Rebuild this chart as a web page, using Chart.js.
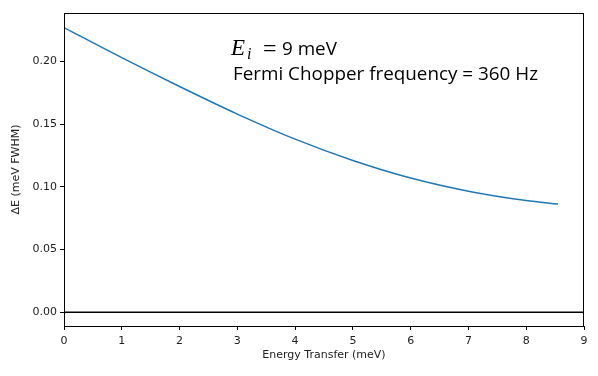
<!DOCTYPE html>
<html>
<head>
<meta charset="utf-8">
<script src="https://cdn.jsdelivr.net/npm/chart.js@4/dist/chart.umd.min.js"></script>
<style>
  html, body { margin: 0; padding: 0; background: #fff; }
  #wrap { width: 598px; height: 376px; }
</style>
</head>
<body>
<div id="wrap"><canvas id="chart" width="598" height="376"></canvas></div>
<script>
// energy transfer (meV) and resolution (meV FWHM)
const energyTransfer = [0, 1, 2, 3, 4, 5, 6, 7, 8, 8.55];
const resolution = [0.227, 0.203, 0.180, 0.158, 0.138, 0.121, 0.107, 0.0965, 0.089, 0.0862];
const zeroLineX = [0, 9];
const xTicks = [0, 1, 2, 3, 4, 5, 6, 7, 8, 9];
const yTicks = [0.00, 0.05, 0.10, 0.15, 0.20];
const noteLines = ['9 meV', 'Fermi Chopper frequency = 360 Hz'];

const tickFont = { family: 'DejaVu Sans', size: 11 };

const boxAndNote = {
  id: 'boxAndNote',
  afterDraw(chart) {
    const ctx = chart.ctx;
    const a = chart.chartArea;
    ctx.save();
    ctx.strokeStyle = '#000';
    ctx.lineWidth = 1;
    ctx.strokeRect(a.left + 0.5, a.top + 0.5, a.right - a.left - 1, a.bottom - a.top);

    // annotation text, sans lines squeezed a bit (reference uses a narrow font)
    ctx.fillStyle = '#000';
    ctx.textBaseline = 'alphabetic';
    ctx.font = 'italic 23px "Liberation Serif"';
    ctx.fillText('E', 231, 55);
    ctx.font = 'italic 16px "Liberation Serif"';
    ctx.fillText('i', 247, 59);
    ctx.font = '24px "Liberation Serif"';
    ctx.fillText('=', 263, 56);

    ctx.font = '19px "Open Sans"';
    const squeeze = 305 / ctx.measureText(noteLines[1]).width;
    [[noteLines[0], 282, 55], [noteLines[1], 233, 80]].forEach(([t, x, y]) => {
      ctx.save();
      ctx.translate(x, y);
      ctx.scale(squeeze, 1);
      ctx.fillText(t, 0, 0);
      ctx.restore();
    });
    ctx.restore();
  }
};

const ctx = document.getElementById('chart').getContext('2d');
new Chart(ctx, {
  type: 'line',
  data: {
    datasets: [
      {
        data: energyTransfer.map((e, i) => ({ x: e, y: resolution[i] })),
        borderColor: '#1f77b4',
        borderWidth: 1.5,
        pointRadius: 0,
        cubicInterpolationMode: 'monotone'
      },
      {
        data: zeroLineX.map(e => ({ x: e, y: 0 })),
        borderColor: '#000',
        borderWidth: 1.5,
        pointRadius: 0
      }
    ]
  },
  options: {
    responsive: false,
    animation: false,
    layout: { padding: { top: 13, right: 14, left: 6, bottom: 10 } },
    plugins: { legend: { display: false }, tooltip: { enabled: false } },
    scales: {
      x: {
        type: 'linear',
        min: 0,
        max: 9,
        afterBuildTicks: s => { s.ticks = xTicks.map(v => ({ value: v })); },
        afterFit: s => { s.height = 40; },
        grid: { drawOnChartArea: false, drawTicks: true, tickLength: 4, color: '#000' },
        border: { color: '#000', width: 1 },
        ticks: { font: tickFont, color: '#222', padding: 5, maxRotation: 0, callback: v => String(v) },
        title: { display: true, text: 'Energy Transfer (meV)', font: tickFont, color: '#222', padding: { top: 4 } }
      },
      y: {
        type: 'linear',
        min: -0.011,
        max: 0.2386,
        afterBuildTicks: s => { s.ticks = yTicks.map(v => ({ value: v })); },
        afterFit: s => { s.width = 58; },
        grid: { drawOnChartArea: false, drawTicks: true, tickLength: 4, color: '#000' },
        border: { color: '#000', width: 1 },
        ticks: { font: tickFont, color: '#222', padding: 3, callback: v => v.toFixed(2) },
        title: { display: true, text: 'ΔE (meV FWHM)', font: tickFont, color: '#222', padding: { bottom: 4 } }
      }
    }
  },
  plugins: [boxAndNote]
});
</script>
</body>
</html>
